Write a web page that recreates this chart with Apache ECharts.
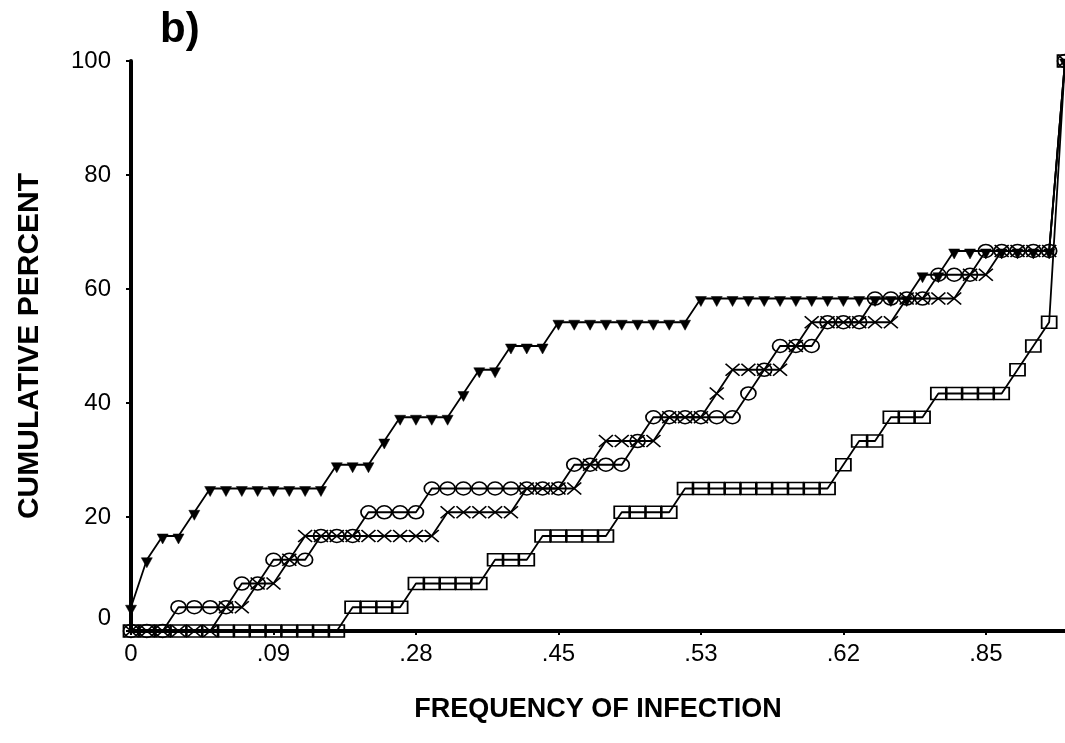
<!DOCTYPE html>
<html>
<head>
<meta charset="utf-8">
<script src="https://cdn.jsdelivr.net/npm/echarts@6/dist/echarts.min.js"></script>
<style>
  html, body { margin: 0; padding: 0; background: #fff; }
  #chart { width: 1065px; height: 743px; }
</style>
</head>
<body>
<div id="chart"></div>
<script>
// Frequency-of-infection steps along the x axis; one labelled tick every 9 steps.
const stepCount = 60;
const tickLabels = ['0', '.09', '.28', '.45', '.53', '.62', '.85'];
const tickEvery = 9;
const yTicks = [0, 20, 40, 60, 80, 100];

// Cumulative percent per group, one value per step.
const triangleGroup = [
  4.17, 12.5, 16.67, 16.67, 20.83,
  25, 25, 25, 25, 25, 25, 25, 25,
  29.17, 29.17, 29.17, 33.33,
  37.5, 37.5, 37.5, 37.5, 41.67,
  45.83, 45.83, 50, 50, 50,
  54.17, 54.17, 54.17, 54.17, 54.17, 54.17, 54.17, 54.17, 54.17,
  58.33, 58.33, 58.33, 58.33, 58.33, 58.33, 58.33, 58.33, 58.33, 58.33, 58.33, 58.33, 58.33, 58.33,
  62.5, 62.5,
  66.67, 66.67, 66.67, 66.67, 66.67, 66.67, 66.67,
  100
];
const circleGroup = [
  0, 0, 0,
  4.17, 4.17, 4.17, 4.17,
  8.33, 8.33,
  12.5, 12.5, 12.5,
  16.67, 16.67, 16.67,
  20.83, 20.83, 20.83, 20.83,
  25, 25, 25, 25, 25, 25, 25, 25, 25,
  29.17, 29.17, 29.17, 29.17,
  33.33,
  37.5, 37.5, 37.5, 37.5, 37.5, 37.5,
  41.67, 45.83,
  50, 50, 50,
  54.17, 54.17, 54.17,
  58.33, 58.33, 58.33, 58.33,
  62.5, 62.5, 62.5,
  66.67, 66.67, 66.67, 66.67, 66.67,
  100
];
const crossGroup = [
  0, 0, 0, 0, 0, 0,
  4.17, 4.17,
  8.33, 8.33,
  12.5,
  16.67, 16.67, 16.67, 16.67, 16.67, 16.67, 16.67, 16.67, 16.67,
  20.83, 20.83, 20.83, 20.83, 20.83,
  25, 25, 25, 25,
  29.17,
  33.33, 33.33, 33.33, 33.33,
  37.5, 37.5, 37.5,
  41.67,
  45.83, 45.83, 45.83, 45.83,
  50,
  54.17, 54.17, 54.17, 54.17, 54.17, 54.17,
  58.33, 58.33, 58.33, 58.33,
  62.5, 62.5,
  66.67, 66.67, 66.67, 66.67,
  100
];
const squareGroup = [
  0, 0, 0, 0, 0, 0, 0, 0, 0, 0, 0, 0, 0, 0,
  4.17, 4.17, 4.17, 4.17,
  8.33, 8.33, 8.33, 8.33, 8.33,
  12.5, 12.5, 12.5,
  16.67, 16.67, 16.67, 16.67, 16.67,
  20.83, 20.83, 20.83, 20.83,
  25, 25, 25, 25, 25, 25, 25, 25, 25, 25,
  29.17, 33.33, 33.33,
  37.5, 37.5, 37.5,
  41.67, 41.67, 41.67, 41.67, 41.67,
  45.83, 50, 54.17,
  100
];

const steps = Array.from({ length: stepCount }, (_, i) => String(i));
const FONT = '"Liberation Sans", Arial, Helvetica, sans-serif';
const INK = '#000';

const hollow = { color: 'rgba(0,0,0,0)', borderColor: INK, borderWidth: 1.6 };

function stepSeries(name, data, symbol, size, itemStyle, extra) {
  return Object.assign({
    name: name,
    type: 'line',
    data: data,
    symbol: symbol,
    symbolSize: size,
    showAllSymbol: true,
    clip: false,
    lineStyle: { color: INK, width: 1.8 },
    itemStyle: itemStyle,
    emphasis: { disabled: true }
  }, extra || {});
}

const chart = echarts.init(document.getElementById('chart'), null, { renderer: 'canvas' });
chart.setOption({
  animation: false,
  backgroundColor: '#fff',
  title: {
    text: 'b)',
    left: 155,
    top: 4,
    textStyle: { fontFamily: FONT, fontSize: 42, fontWeight: 'bold', color: INK }
  },
  grid: { left: 131, right: 0, top: 61, bottom: 112, containLabel: false },
  xAxis: {
    type: 'category',
    data: steps,
    boundaryGap: false,
    name: 'FREQUENCY OF INFECTION',
    nameLocation: 'middle',
    nameGap: 65,
    nameTextStyle: { fontFamily: FONT, fontSize: 27, fontWeight: 'bold', color: INK },
    axisLine: { show: true, lineStyle: { color: INK, width: 4 } },
    axisTick: { show: true, interval: tickEvery - 1, length: 4, lineStyle: { color: INK, width: 2 } },
    axisLabel: {
      interval: tickEvery - 1,
      margin: 11,
      fontFamily: FONT,
      fontSize: 24,
      color: INK,
      formatter: (v, i) => tickLabels[i / tickEvery] || ''
    },
    splitLine: { show: false }
  },
  yAxis: {
    type: 'value',
    min: yTicks[0],
    max: yTicks[yTicks.length - 1],
    interval: yTicks[1] - yTicks[0],
    name: 'CUMULATIVE PERCENT',
    nameLocation: 'middle',
    nameRotate: 90,
    nameGap: 86,
    nameTextStyle: { fontFamily: FONT, fontSize: 30, fontWeight: 'bold', color: INK },
    axisLine: { show: true, lineStyle: { color: INK, width: 4 } },
    axisTick: { show: true, length: 5, lineStyle: { color: INK, width: 2 } },
    axisLabel: {
      margin: 20,
      fontFamily: FONT,
      fontSize: 24,
      color: INK,
      formatter: v => (v === 0 ? '{low|0}' : String(v)),
      rich: { low: { fontFamily: FONT, fontSize: 24, color: INK, padding: [0, 0, 26, 0] } }
    },
    splitLine: { show: false }
  },
  series: [
    stepSeries('squares', squareGroup, 'rect', [15, 12], hollow),
    stepSeries('crosses', crossGroup, 'path://M0,0L10,8M10,0L0,8', [14, 12], hollow),
    stepSeries('circles', circleGroup, 'circle', [15, 13], hollow),
    stepSeries('triangles', triangleGroup, 'path://M0,0L10,0L5,9Z', [11, 10],
      { color: INK, borderColor: INK, borderWidth: 0.5 }, { symbolOffset: [0, 3] })
  ]
});
</script>
</body>
</html>
